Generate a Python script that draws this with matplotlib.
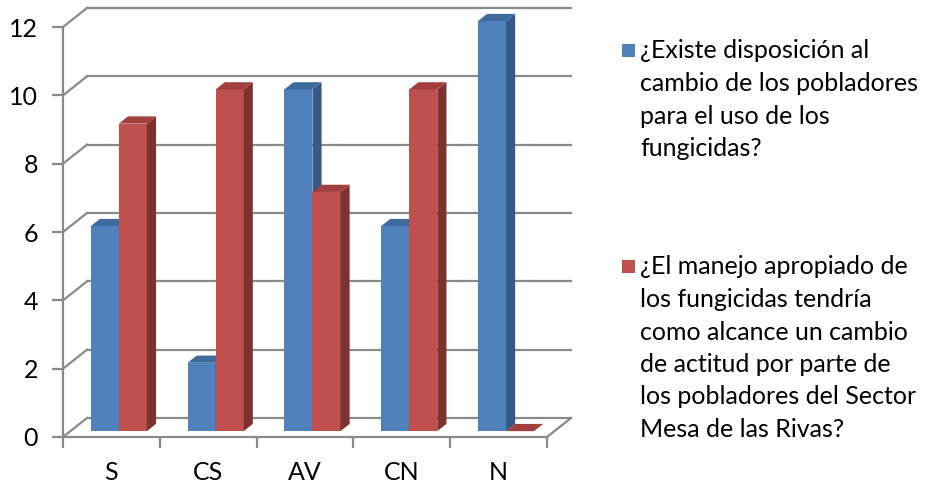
import matplotlib.pyplot as plt
from matplotlib.patches import Polygon, Rectangle

categorias = ['S', 'CS', 'AV', 'CN', 'N']
serie_disposicion = [6, 2, 10, 6, 12]
serie_manejo = [9, 10, 7, 10, 0]
leyenda_1 = ['¿Existe disposición al', 'cambio de los pobladores',
             'para el uso de los', 'fungicidas?']
leyenda_2 = ['¿El manejo apropiado de', 'los fungicidas tendría',
             'como alcance un cambio', 'de actitud por parte de',
             'los pobladores del Sector', 'Mesa de las Rivas?']

plt.rcParams['font.family'] = ['Lato', 'DejaVu Sans']

azul = ('#4F81BD', '#36598A', '#3E6A9C')   # frente, lado, tapa
rojo = ('#C0504D', '#7E3230', '#A2403D')
gris = '#8A8A8A'

W, H = 925, 484
fig = plt.figure(figsize=(W / 100, H / 100), dpi=100)
ax = fig.add_axes([63 / W, 47 / H, 484 / W, 410 / H])
ax.set_xlim(0, 5)
ax.set_ylim(0, 12)
ax.patch.set_visible(False)

# profundidad del "3D" en unidades de datos
DX = 24 / 96.8
DY = 19 / 34.17

# paredes: rejilla al fondo y en la pared izquierda, suelo
for v in range(0, 13, 2):
    ax.plot([DX, 5 + DX], [v + DY, v + DY], color=gris, lw=1.6, clip_on=False, zorder=1)
    ax.plot([0, DX], [v, v + DY], color=gris, lw=1.6, clip_on=False, zorder=1)
ax.plot([5, 5 + DX], [0, DY], color=gris, lw=1.6, clip_on=False, zorder=1)

for s in ['top', 'right']:
    ax.spines[s].set_visible(False)
for s in ['left', 'bottom']:
    ax.spines[s].set_color(gris)
    ax.spines[s].set_linewidth(1.6)

ax.set_yticks(range(0, 13, 2))
ax.tick_params(axis='y', length=8, width=1.6, color=gris, pad=10, labelsize=18)
ax.set_xticks(range(6))
ax.set_xticklabels([])
ax.set_xticks([i + 0.5 for i in range(5)], minor=True)
ax.set_xticklabels(categorias, minor=True)
ax.tick_params(axis='x', which='major', length=8, width=1.6, color=gris)
ax.tick_params(axis='x', which='minor', length=0, pad=17, labelsize=18)


def barra(x0, ancho, valor, colores, z):
    d0, d1 = 0.31, 0.69
    fx, fy = d0 * DX, d0 * DY
    bx, by = (d1 - d0) * DX, (d1 - d0) * DY
    xl, xr = x0 + fx, x0 + ancho + fx
    yb, yt = fy, fy + valor
    if valor > 0:
        ax.add_patch(Polygon([(xl, yb), (xr, yb), (xr, yt), (xl, yt)],
                             closed=True, fc=colores[0], ec='none', zorder=z, clip_on=False))
        ax.add_patch(Polygon([(xr, yb), (xr + bx, yb + by), (xr + bx, yt + by), (xr, yt)],
                             closed=True, fc=colores[1], ec='none', zorder=z, clip_on=False))
    ax.add_patch(Polygon([(xl, yt), (xr, yt), (xr + bx, yt + by), (xl + bx, yt + by)],
                         closed=True, fc=colores[2], ec='none', zorder=z, clip_on=False))


ancho = 0.29
for i in range(len(categorias)):
    barra(i + 0.5 - ancho, ancho, serie_disposicion[i], azul, 3 + 2 * i)
    barra(i + 0.5, ancho, serie_manejo[i], rojo, 4 + 2 * i)

# leyenda
def bloque(y0, lineas, color):
    fig.add_artist(Rectangle((622 / W, 1 - (y0 + 6) / H), 13 / W, 13 / H,
                             transform=fig.transFigure, fc=color, ec='none'))
    for k, t in enumerate(lineas):
        fig.text(640 / W, 1 - (y0 + 32.5 * k) / H, t, fontsize=18,
                 ha='left', va='center')


bloque(51, leyenda_1, azul[0])
bloque(267, leyenda_2, rojo[0])

fig.savefig('out.png', dpi=100)
